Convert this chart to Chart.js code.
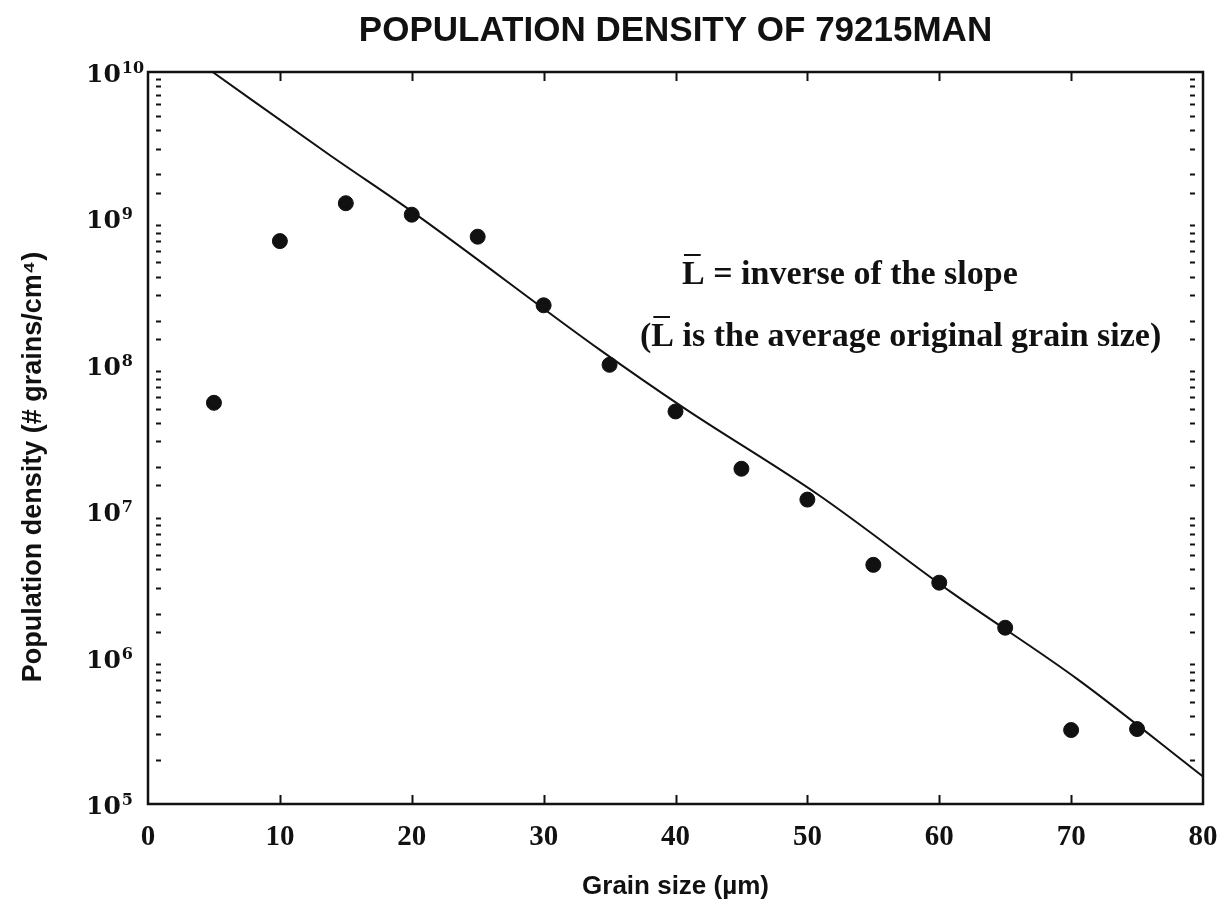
<!DOCTYPE html>
<html>
<head>
<meta charset="utf-8">
<title>Population density of 79215MAN</title>
<script src="https://cdn.jsdelivr.net/npm/chart.js@4.4.1/dist/chart.umd.min.js"></script>
<style>
  html, body { margin: 0; padding: 0; background: #fff; }
</style>
</head>
<body>
<canvas id="densityChart" width="1226" height="912"></canvas>
<script>
// grain size (µm) vs population density (# grains/cm^4)
const grainSizes = [5, 10, 15, 20, 25, 30, 35, 40, 45, 50, 55, 60, 65, 70, 75];
const densities = [5.5e7, 7.0e8, 1.27e9, 1.06e9, 7.5e8, 2.55e8, 1.0e8, 4.8e7, 1.95e7, 1.2e7, 4.3e6, 3.25e6, 1.6e6, 3.2e5, 3.25e5];

// hand-fitted curve through the tail
const fitSizes = [4.9, 13.8, 20.1, 34.3, 40.6, 50.8, 60.9, 70.5, 80];
const fitDensities = [1e10, 2.7e9, 1.1e9, 1.26e8, 5.1e7, 1.3e7, 2.8e6, 7.1e5, 1.54e5];

const xTicks = [0, 10, 20, 30, 40, 50, 60, 70, 80];
const yDecades = [1e5, 1e6, 1e7, 1e8, 1e9, 1e10];

const INK = "#111";

// frame, inward tick marks, power-of-ten labels and the note
const frameAndTicks = {
  id: "frameAndTicks",
  afterDraw(chart) {
    const { ctx, chartArea: a, scales: { x, y } } = chart;
    ctx.save();
    ctx.strokeStyle = INK;
    ctx.fillStyle = INK;

    ctx.lineWidth = 2.5;
    ctx.strokeRect(a.left, a.top, a.right - a.left, a.bottom - a.top);

    // minor ticks: short detached dashes just inside both y edges
    ctx.lineWidth = 2;
    y.ticks.forEach(t => {
      const lead = t.value / Math.pow(10, Math.floor(Math.log10(t.value) + 1e-9));
      if (Math.abs(lead - 1) < 1e-6) return;
      const py = Math.round(y.getPixelForValue(t.value)) + 0.5;
      ctx.beginPath();
      ctx.moveTo(a.left + 8, py); ctx.lineTo(a.left + 13, py);
      ctx.moveTo(a.right - 13, py); ctx.lineTo(a.right - 8, py);
      ctx.stroke();
    });

    // x ticks pointing into the plot from top and bottom
    xTicks.slice(1, -1).forEach(v => {
      const px = Math.round(x.getPixelForValue(v)) + 0.5;
      ctx.beginPath();
      ctx.moveTo(px, a.bottom); ctx.lineTo(px, a.bottom - 9);
      ctx.moveTo(px, a.top); ctx.lineTo(px, a.top + 9);
      ctx.stroke();
    });

    // y labels as 10 with a raised exponent
    yDecades.forEach(d => {
      const py = y.getPixelForValue(d);
      const exp = String(Math.round(Math.log10(d)));
      ctx.font = 'bold 25px "DejaVu Serif"';
      ctx.textAlign = "left";
      ctx.textBaseline = "alphabetic";
      ctx.fillText("10", 86, py + 10);
      const w = ctx.measureText("10").width;
      ctx.font = 'bold 16px "DejaVu Serif"';
      ctx.fillText(exp, 86 + w + 1, py + 1);
    });

    // note about the slope, with overbars on L
    const noteLines = [
      { x: 682, y: 284, text: "L = inverse of the slope", bar: 0 },
      { x: 640, y: 346, text: "(L is the average original grain size)", bar: 1 }
    ];
    ctx.font = 'bold 34px "Liberation Serif"';
    ctx.textBaseline = "alphabetic";
    noteLines.forEach(n => {
      ctx.fillText(n.text, n.x, n.y);
      const pre = ctx.measureText(n.text.slice(0, n.bar)).width;
      const lw = ctx.measureText("L").width;
      ctx.lineWidth = 2;
      ctx.beginPath();
      ctx.moveTo(n.x + pre + 2, n.y - 29);
      ctx.lineTo(n.x + pre + lw - 4, n.y - 29);
      ctx.stroke();
    });

    ctx.restore();
  }
};

const densityChart = new Chart(document.getElementById("densityChart"), {
  type: "scatter",
  data: {
    datasets: [
      {
        label: "Measured",
        data: grainSizes.map((g, i) => ({ x: g, y: densities[i] })),
        backgroundColor: INK,
        borderColor: INK,
        pointRadius: 7.5,
        pointHoverRadius: 7.5
      },
      {
        label: "Fit",
        data: fitSizes.map((g, i) => ({ x: g, y: fitDensities[i] })),
        showLine: true,
        borderColor: INK,
        borderWidth: 2,
        pointRadius: 0,
        cubicInterpolationMode: "monotone"
      }
    ]
  },
  options: {
    responsive: false,
    animation: false,
    layout: { padding: { left: 140, right: 23, top: 0, bottom: 10 } },
    plugins: {
      legend: { display: false },
      tooltip: { enabled: false },
      title: {
        display: true,
        fullSize: false,
        text: "POPULATION DENSITY OF 79215MAN",
        color: INK,
        font: { family: '"Liberation Sans"', size: 35, weight: "bold" },
        padding: { top: 10, bottom: 20 }
      }
    },
    scales: {
      x: {
        type: "linear",
        min: 0,
        max: 80,
        grid: { display: false },
        border: { display: false },
        afterBuildTicks: scale => { scale.ticks = xTicks.map(v => ({ value: v })); },
        ticks: {
          color: INK,
          padding: 8,
          maxRotation: 0,
          font: { family: '"Liberation Serif"', size: 29, weight: "bold" }
        },
        title: {
          display: true,
          text: "Grain size (µm)",
          color: INK,
          font: { family: '"Liberation Sans"', size: 26, weight: "bold" },
          padding: { top: 8, bottom: 0 }
        }
      },
      y: {
        type: "logarithmic",
        min: 1e5,
        max: 1e10,
        grid: { display: false },
        border: { display: false },
        ticks: { display: false, autoSkip: false }
      }
    }
  },
  plugins: [frameAndTicks, {
    id: "yTitle",
    afterDraw(chart) {
      const { ctx, chartArea: a } = chart;
      ctx.save();
      ctx.translate(34, (a.top + a.bottom) / 2 + 29);
      ctx.rotate(-Math.PI / 2);
      ctx.fillStyle = INK;
      ctx.font = 'bold 27px "Liberation Sans"';
      ctx.textAlign = "center";
      ctx.textBaseline = "middle";
      ctx.fillText("Population density (# grains/cm⁴)", 0, 0);
      ctx.restore();
    }
  }]
});
</script>
</body>
</html>
